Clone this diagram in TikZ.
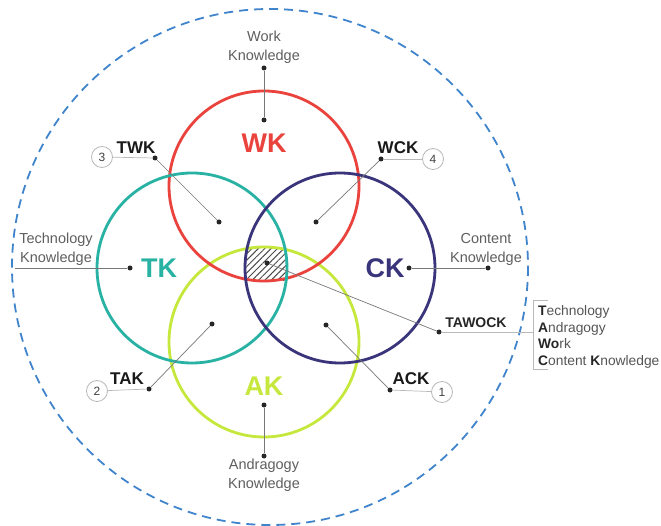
\documentclass[tikz,border=0pt]{standalone}
\usepackage{fontspec}
\setmainfont{Liberation Sans}
\usetikzlibrary{patterns.meta}
\definecolor{cwk}{RGB}{234,66,60}
\definecolor{ctk}{RGB}{40,178,163}
\definecolor{cck}{RGB}{58,52,122}
\definecolor{cak}{RGB}{198,232,60}
\definecolor{cblue}{RGB}{64,132,204}
\definecolor{ctext}{RGB}{95,95,95}
\definecolor{cline}{RGB}{120,120,120}
\definecolor{clight}{RGB}{185,185,185}
\definecolor{clist}{RGB}{85,85,85}
\tikzset{
  venn/.style={line width=2.8pt},
  dotn/.style={circle,fill=black!85,inner sep=0pt,minimum size=5pt},
  graytext/.style={text=ctext,align=center,font=\fontsize{14.5}{19}\selectfont},
  biglabel/.style={font=\fontsize{27}{30}\selectfont\bfseries},
  zonelabel/.style={font=\fontsize{17}{20}\selectfont\bfseries,text=black!90},
  numcirc/.style={circle,draw=clight,line width=0.8pt,minimum size=21pt,inner sep=0pt,font=\fontsize{12}{12}\selectfont,text=black!75},
  conn/.style={draw=cline,line width=0.7pt},
  under/.style={draw=clight,line width=0.7pt}
}
\begin{document}
\begin{tikzpicture}[x=1pt,y=-1pt]
\useasboundingbox (0,0) rectangle (661,526);
\fill[white] (0,0) rectangle (661,526);
% outer dashed circle
\draw[cblue,line width=1.8pt,dash pattern=on 9pt off 6pt] (270,267) circle[radius=258];
% hatched region
\fill[pattern={Lines[angle=45,distance=4.5pt,line width=1pt]},pattern color=black!70] (246,248) rectangle (286,281);
% circles
\draw[venn,cak] (264,342) circle[radius=95];
\draw[venn,cwk] (264,186) circle[radius=95];
\draw[venn,ctk] (192,268) circle[radius=95];
\draw[venn,cck] (340,268) circle[radius=95];
% big labels
\node[biglabel,text=cwk] (wk) at (264,143) {WK};
\node[biglabel,text=ctk] (tk) at (159,268) {TK};
\node[biglabel,text=cck] (ck) at (385,268) {CK};
\node[biglabel,text=cak] (ak) at (264,386) {AK};
% Work Knowledge
\node[graytext] (wkt) at (264,47) {Work\\Knowledge};
\node[dotn] (wkd1) at (264,68) {};
\node[dotn] (wkd2) at (264,120) {};
\draw[conn] (wkd1) -- (wkd2);
% Andragogy Knowledge
\node[graytext] (akt) at (264,475) {Andragogy\\Knowledge};
\node[dotn] (akd1) at (264,405) {};
\node[dotn] (akd2) at (264,456) {};
\draw[conn] (akd1) -- (akd2);
% Technology Knowledge
\node[graytext] (tkt) at (56,249) {Technology\\Knowledge};
\coordinate (tkl) at (15,268);
\node[dotn] (tkd) at (130,268) {};
\draw[conn] (tkl) -- (tkd);
% Content Knowledge
\node[graytext] (ckt) at (486,249) {Content\\Knowledge};
\node[dotn] (ckd1) at (409,268) {};
\node[dotn] (ckd2) at (488,268) {};
\draw[conn] (ckd1) -- (ckd2);
% TWK
\node[numcirc] (n3) at (102,157) {3};
\node[zonelabel] (twk) at (136,148) {TWK};
\node[dotn] (twkd) at (155,158) {};
\node[dotn] (twki) at (219,222) {};
\draw[under] (n3) -- (twkd);
\draw[conn] (twkd) -- (twki);
% WCK
\node[numcirc] (n4) at (433,159) {4};
\node[zonelabel] (wck) at (398,148) {WCK};
\node[dotn] (wckd) at (381,159) {};
\node[dotn] (wcki) at (316,222) {};
\draw[under] (wckd) -- (n4);
\draw[conn] (wckd) -- (wcki);
% TAK
\node[numcirc] (n2) at (97,391) {2};
\node[zonelabel] (tak) at (127,379) {TAK};
\node[dotn] (takd) at (149,389) {};
\node[dotn] (taki) at (212,324) {};
\draw[under] (n2) -- (takd);
\draw[conn] (takd) -- (taki);
% ACK
\node[numcirc] (n1) at (442,392) {1};
\node[zonelabel] (ack) at (411,379) {ACK};
\node[dotn] (ackd) at (390,390) {};
\node[dotn] (acki) at (326,325) {};
\draw[under] (ackd) -- (n1);
\draw[conn] (ackd) -- (acki);
% TAWOCK
\node[dotn] (cen) at (267,263) {};
\node[dotn] (tawd) at (439,332) {};
\node[font=\fontsize{14}{16}\selectfont\bfseries,text=black!85] (taw) at (476,323) {TAWOCK};
\coordinate (brk) at (533,332);
\draw[conn] (cen) -- (tawd);
\draw[under] (tawd) -- (brk);
\coordinate (brt) at (533,300);
\coordinate (brb) at (533,369);
\coordinate (brt2) at (548,300);
\coordinate (brb2) at (548,369);
\draw[under] (brt2) -- (brt) -- (brb) -- (brb2);
\node[anchor=west,align=left,text=clist,font=\fontsize{13.8}{16.7}\selectfont,inner sep=0pt] (list) at (538,337)
 {{\color{black!85}\bfseries T}echnology\\{\color{black!85}\bfseries A}ndragogy\\{\color{black!85}\bfseries Wo}rk\\{\color{black!85}\bfseries C}ontent {\color{black!85}\bfseries K}nowledge};
\end{tikzpicture}
\end{document}
